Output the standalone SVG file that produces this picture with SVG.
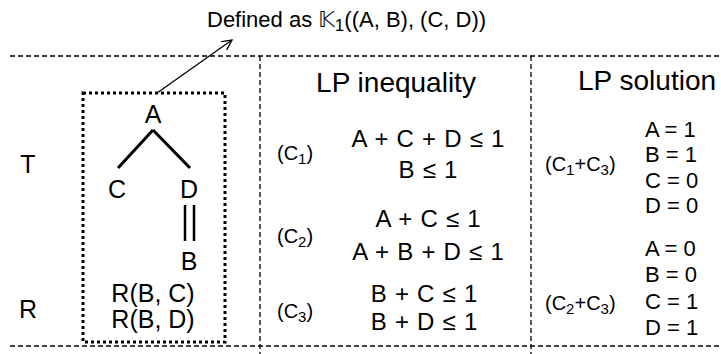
<svg xmlns="http://www.w3.org/2000/svg" width="721" height="354" viewBox="0 0 721 354">
<style>
text{font-family:"Liberation Sans",Arial,"DejaVu Sans",sans-serif;fill:#000}
.big{font-size:25px}
.hd{font-size:28px}
.eq{font-size:24px;text-anchor:middle;word-spacing:1.5px}
.lb{font-size:20px}
.sub{font-size:15px}
.sol{font-size:22px}
.c{text-anchor:middle}
.dash{stroke:#000;stroke-width:1.3;stroke-dasharray:5 3;fill:none}
.edge{stroke:#000;stroke-width:3;fill:none}
</style>
<defs>
<marker id="ah" markerWidth="12" markerHeight="12" refX="10" refY="5" orient="auto" markerUnits="userSpaceOnUse">
<path d="M0,0 L10,5 L0,10" fill="none" stroke="#000" stroke-width="1.3"/>
</marker>
</defs>
<rect width="721" height="354" fill="#fff"/>
<g id="grid">
<line class="dash" x1="10" y1="56" x2="721" y2="56"/>
<line class="dash" x1="10" y1="346" x2="721" y2="346"/>
<line class="dash" x1="260" y1="56" x2="260" y2="354"/>
<line class="dash" x1="531" y1="56" x2="531" y2="354"/>
</g>
<g id="title">
<text x="207" y="27" style="font-size:22px">Defined as <tspan font-family="DejaVu Sans">𝕂</tspan><tspan dy="4" style="font-size:17px">1</tspan><tspan dy="-4">((A, B), (C, D))</tspan></text>
</g>
<g id="rowlabels">
<text class="big c" x="28" y="173">T</text>
<text class="big c" x="28" y="318">R</text>
</g>
<g id="box">
<rect x="83" y="93" width="142" height="249" fill="none" stroke="#000" stroke-width="3" stroke-dasharray="3 3"/>
</g>
<g id="nodeA"><text class="big c" x="153" y="123">A</text></g>
<g id="nodeC"><text class="big c" x="117" y="198">C</text></g>
<g id="nodeD"><text class="big c" x="189" y="198">D</text></g>
<g id="nodeB"><text class="big c" x="189" y="270">B</text></g>
<g id="relations">
<text class="big c" x="153" y="302">R(B, C)</text>
<text class="big c" x="153" y="328">R(B, D)</text>
</g>
<g id="connectors">
<line class="edge" x1="153" y1="130" x2="118" y2="168"/>
<line class="edge" x1="153" y1="130" x2="190" y2="168"/>
<line stroke="#000" stroke-width="2.5" x1="185" y1="205" x2="185" y2="241"/>
<line stroke="#000" stroke-width="2.5" x1="194" y1="205" x2="194" y2="241"/>
<line stroke="#000" stroke-width="1.3" x1="157" y1="93" x2="232" y2="40" marker-end="url(#ah)"/>
</g>
<g id="ineq">
<text class="hd c" x="396" y="92">LP inequality</text>
<text class="lb" x="277" y="160">(C<tspan dy="4" class="sub">1</tspan><tspan dy="-4">)</tspan></text>
<text class="eq" x="428" y="147">A + C + D ≤ 1</text>
<text class="eq" x="428" y="178">B ≤ 1</text>
<text class="lb" x="277" y="243">(C<tspan dy="4" class="sub">2</tspan><tspan dy="-4">)</tspan></text>
<text class="eq" x="428" y="227">A + C ≤ 1</text>
<text class="eq" x="428" y="260">A + B + D ≤ 1</text>
<text class="lb" x="277" y="318">(C<tspan dy="4" class="sub">3</tspan><tspan dy="-4">)</tspan></text>
<text class="eq" x="424" y="302">B + C ≤ 1</text>
<text class="eq" x="424" y="330">B + D ≤ 1</text>
</g>
<g id="sol">
<text class="hd" x="578" y="90">LP solution</text>
<text class="lb" x="545" y="171">(C<tspan dy="4" class="sub">1</tspan><tspan dy="-4">+C</tspan><tspan dy="4" class="sub">3</tspan><tspan dy="-4">)</tspan></text>
<text class="sol" x="645" y="137">A = 1</text>
<text class="sol" x="645" y="162">B = 1</text>
<text class="sol" x="645" y="188">C = 0</text>
<text class="sol" x="645" y="213">D = 0</text>
<text class="lb" x="545" y="310">(C<tspan dy="4" class="sub">2</tspan><tspan dy="-4">+C</tspan><tspan dy="4" class="sub">3</tspan><tspan dy="-4">)</tspan></text>
<text class="sol" x="645" y="256">A = 0</text>
<text class="sol" x="645" y="282">B = 0</text>
<text class="sol" x="645" y="309">C = 1</text>
<text class="sol" x="645" y="335">D = 1</text>
</g>
</svg>
